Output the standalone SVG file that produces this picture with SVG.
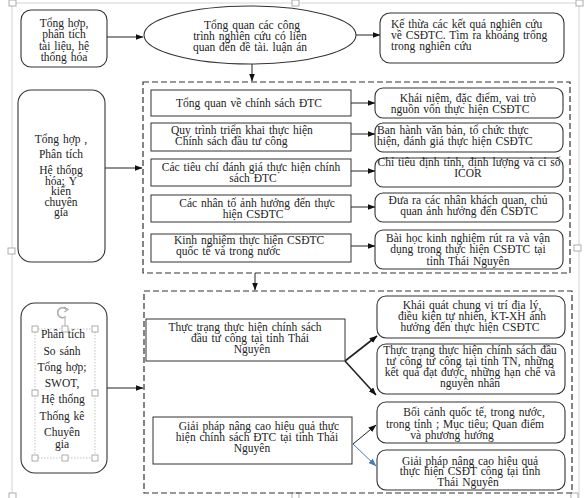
<svg xmlns="http://www.w3.org/2000/svg" width="584" height="498" viewBox="0 0 584 498">
<defs>
<marker id="ah" markerUnits="userSpaceOnUse" markerWidth="8" markerHeight="6" refX="7.5" refY="3" orient="auto"><path d="M0,0 L8,3 L0,6 z" fill="#111"/></marker>
<marker id="ahb" markerUnits="userSpaceOnUse" markerWidth="8" markerHeight="6" refX="7.5" refY="3" orient="auto"><path d="M0,0 L8,3 L0,6 z" fill="#4a7ab8"/></marker>
<style>
text{font-family:"Liberation Serif","Times New Roman",serif;font-size:11.5px;word-spacing:1px;fill:#222;}
.c{text-anchor:middle;}
.rr{fill:#fff;stroke:#333;stroke-width:1.1;}
.rb{fill:#fff;stroke:#333;stroke-width:1;}
.dash{fill:none;stroke:#333;stroke-width:1.2;stroke-dasharray:6 3;}
.ln{stroke:#222;stroke-width:1;fill:none;marker-end:url(#ah);}
.lt{stroke:#222;stroke-width:1.6;fill:none;marker-end:url(#ah);}
.pg{stroke:#d4d4d4;stroke-width:1;fill:none;}
.hd{fill:#fff;stroke:#999;stroke-width:0.8;}
</style>
</defs>
<rect width="584" height="498" fill="#fff"/>

<g id="page">
<path class="pg" d="M12,3 H579 M12,3 V498 M579,3 V498"/>
<rect class="hd" x="9" y="0" width="7" height="6"/>
<rect class="hd" x="292" y="0" width="7" height="6"/>
<rect class="hd" x="576" y="0" width="7" height="6"/>
<rect class="hd" x="8" y="248" width="7" height="6"/>
<rect class="hd" x="574" y="245" width="7" height="6"/>
<rect class="hd" x="9" y="493" width="7" height="6"/>
<rect class="hd" x="292" y="493" width="7" height="6"/>
<rect class="hd" x="571" y="493" width="7" height="6"/>
</g>

<g id="frames">
<rect class="dash" x="143" y="82" width="427" height="191"/>
<rect class="dash" x="144" y="291" width="428" height="202"/>
</g>

<g id="connectors">
<line class="ln" x1="107" y1="37" x2="143" y2="37"/>
<line class="ln" x1="356" y1="35" x2="380" y2="35"/>
<line class="ln" x1="252" y1="63" x2="252" y2="81"/>
<line class="ln" x1="105" y1="168" x2="142" y2="168"/>
<line class="ln" x1="351" y1="103" x2="375" y2="103"/>
<line class="ln" x1="351" y1="134" x2="375" y2="134"/>
<line class="ln" x1="351" y1="171" x2="375" y2="171"/>
<line class="ln" x1="351" y1="207" x2="375" y2="207"/>
<line class="ln" x1="351" y1="246" x2="375" y2="246"/>
<line class="ln" x1="255" y1="273" x2="255" y2="290"/>
<line class="ln" x1="107" y1="388" x2="143" y2="388"/>
<line class="lt" x1="345" y1="361" x2="377" y2="336"/>
<line class="lt" x1="345" y1="361" x2="376" y2="395"/>
<line class="ln" x1="353" y1="444" x2="376" y2="425"/>
<line x1="353" y1="444" x2="376" y2="466" stroke="#4a7ab8" stroke-width="1" marker-end="url(#ahb)"/>
</g>

<g id="n-top-left">
<rect class="rr" x="21" y="10" width="86" height="57" rx="10"/>
<text class="c" x="64" y="27">Tổng hợp,</text>
<text class="c" x="64" y="38">phân tích</text>
<text class="c" x="64" y="49.5">tài liệu, hệ</text>
<text class="c" x="64" y="61">thống hóa</text>
</g>

<g id="n-ellipse">
<ellipse cx="250" cy="35" rx="106" ry="29" fill="#fff" stroke="#333" stroke-width="1.1"/>
<text class="c" x="252" y="29">Tổng quan các công</text>
<text class="c" x="250" y="40">trình nghiên cứu có liên</text>
<text class="c" x="250" y="51">quan đến đề tài. luận án</text>
</g>

<g id="n-top-right">
<rect class="rr" x="380" y="13" width="184" height="50" rx="10"/>
<text x="391" y="28">Kế thừa các kết quả nghiên cứu</text>
<text x="391" y="38.5">về CSĐTC.  Tìm ra khoảng trống</text>
<text x="391" y="50">trong nghiên cứu</text>
</g>

<g id="n-mid-left">
<rect class="rr" x="18" y="90" width="87" height="172" rx="13"/>
<text class="c" x="61" y="142.5">Tổng hợp ,</text>
<text class="c" x="61" y="157.5">Phân tích</text>
<text class="c" x="61" y="174">Hệ thống</text>
<text class="c" x="61" y="184.5">hóa; Ý</text>
<text class="c" x="61" y="195">kiến</text>
<text class="c" x="61" y="205.5">chuyên</text>
<text class="c" x="61" y="216">gia</text>
</g>

<g id="n-a">
<rect class="rb" x="151" y="90" width="200" height="26"/>
<text class="c" x="249" y="107">Tổng quan về chính sách ĐTC</text>
</g>
<g id="n-b">
<rect class="rb" x="151" y="123" width="200" height="28"/>
<text x="171" y="134">Quy trình triển khai thực hiện</text>
<text x="175" y="144.5">Chính sách đầu tư công</text>
</g>
<g id="n-c">
<rect class="rb" x="151" y="159" width="200" height="27"/>
<text class="c" x="251" y="170.5">Các tiêu chí đánh giá thực hiện chính</text>
<text class="c" x="253" y="181.5">sách ĐTC</text>
</g>
<g id="n-d">
<rect class="rb" x="151" y="195" width="200" height="27"/>
<text class="c" x="257" y="206.5">Các nhân tố ảnh hưởng đến thực</text>
<text class="c" x="253" y="217.5">hiện CSĐTC</text>
</g>
<g id="n-e">
<rect class="rb" x="151" y="234" width="200" height="28"/>
<text x="174" y="244">Kinh nghiệm thực hiện CSĐTC</text>
<text x="176" y="255">quốc tế và trong nước</text>
</g>

<g id="n-r1">
<rect class="rr" x="375" y="88" width="188" height="30" rx="8"/>
<text class="c" x="468" y="102">Khái niệm, đặc điểm, vai trò</text>
<text class="c" x="460" y="113">nguồn vốn thực hiện CSĐTC</text>
</g>
<g id="n-r2">
<rect class="rr" x="375" y="123" width="188" height="29" rx="8"/>
<text x="377" y="134">Ban hành văn bản, tổ chức thực</text>
<text x="377" y="145">hiện, đánh giá thực hiện CSĐTC</text>
</g>
<g id="n-r3">
<rect class="rr" x="375" y="158" width="188" height="29" rx="8"/>
<text class="c" x="469" y="166">Chỉ tiêu định tính, định lượng và cỉ số</text>
<text class="c" x="468" y="177">ICOR</text>
</g>
<g id="n-r4">
<rect class="rr" x="375" y="193" width="188" height="29" rx="8"/>
<text class="c" x="468" y="204">Đưa ra các nhân khách quan, chủ</text>
<text class="c" x="469" y="215">quan ảnh hưởng đến CSĐTC</text>
</g>
<g id="n-r5">
<rect class="rr" x="375" y="230" width="188" height="39" rx="8"/>
<text class="c" x="468" y="242">Bài học kinh nghiệm rút ra và vận</text>
<text class="c" x="468" y="253">dụng trong thực hiện CSĐTC tại</text>
<text class="c" x="468" y="264.5">tỉnh Thái Nguyên</text>
</g>

<g id="n-bottom-left">
<rect class="rr" x="21" y="303" width="86" height="170" rx="14"/>
<path d="M38,329 H92 M35,332 V455 M95,332 V455 M38,458 H92" stroke="#aaa" stroke-width="0.7" stroke-dasharray="1.5 1.5" fill="none"/>
<path d="M65,318 V326" stroke="#999" stroke-width="0.8"/>
<path d="M66.5,309.5 A5,5 0 1 0 66,316.5" stroke="#aaa" stroke-width="1.6" fill="none"/>
<path d="M64,307 L68,309.5 L64.5,312" stroke="#aaa" stroke-width="1.2" fill="none"/>
<rect class="hd" x="32" y="326" width="6" height="6"/>
<rect class="hd" x="62" y="326" width="6" height="6"/>
<rect class="hd" x="92" y="326" width="6" height="6"/>
<rect class="hd" x="32" y="390" width="6" height="6"/>
<rect class="hd" x="92" y="390" width="6" height="6"/>
<rect class="hd" x="32" y="455" width="6" height="6"/>
<rect class="hd" x="62" y="455" width="6" height="6"/>
<rect class="hd" x="92" y="455" width="6" height="6"/>
<text class="c" x="63" y="337.5">Phân tích</text>
<text class="c" x="62" y="354.5">So sánh</text>
<text class="c" x="62" y="370.5">Tổng hợp;</text>
<text class="c" x="62" y="386.5">SWOT,</text>
<text class="c" x="63" y="402.5">Hệ thống</text>
<text class="c" x="62" y="419.5">Thống kê</text>
<text class="c" x="62" y="436">Chuyên</text>
<text class="c" x="62" y="447.5">gia</text>
</g>

<g id="n-f">
<rect class="rb" x="146" y="319" width="199" height="42"/>
<text class="c" x="245" y="331">Thực trạng thực hiện chính sách</text>
<text class="c" x="250" y="342">đầu tư công tại tỉnh Thái</text>
<text class="c" x="252" y="353">Nguyên</text>
</g>
<g id="n-g">
<rect class="rb" x="153" y="417" width="199" height="47"/>
<text class="c" x="259" y="429.5">Giải pháp nâng cao hiệu quả thực</text>
<text class="c" x="257" y="440.5">hiện chính sách ĐTC tại tỉnh Thái</text>
<text class="c" x="252" y="451.5">Nguyên</text>
</g>

<g id="n-s1">
<rect class="rr" x="377" y="296" width="188" height="42" rx="9"/>
<text class="c" x="472" y="308.5">Khái quát chung vị trí địa lý,</text>
<text class="c" x="472" y="319.5">điều kiện tự nhiên, KT-XH ảnh</text>
<text class="c" x="470" y="330.5">hưởng đến thực hiện CSĐTC</text>
</g>
<g id="n-s2">
<rect class="rr" x="377" y="344" width="188" height="50" rx="9"/>
<text class="c" x="470" y="354">Thực trạng thực hiện chính sách đầu</text>
<text class="c" x="470" y="365">tư công tư công tại tỉnh TN, những</text>
<text class="c" x="470" y="376">kết quả đạt được, những hạn chế và</text>
<text class="c" x="470" y="387">nguyên nhân</text>
</g>
<g id="n-s3">
<rect class="rr" x="377" y="402" width="188" height="41" rx="9"/>
<text class="c" x="474" y="415.5">Bối cảnh quốc tế, trong nước,</text>
<text class="c" x="465" y="427.5">trong tỉnh ; Mục tiêu; Quan điểm</text>
<text class="c" x="452" y="438.5">và phương hướng</text>
</g>
<g id="n-s4">
<rect class="rr" x="377" y="450" width="188" height="40" rx="9"/>
<text class="c" x="470" y="464.5">Giải pháp nâng cao hiệu quả</text>
<text class="c" x="470" y="475">thực hiện CSĐT công tại tỉnh</text>
<text class="c" x="468" y="485.5">Thái Nguyên</text>
</g>
</svg>
